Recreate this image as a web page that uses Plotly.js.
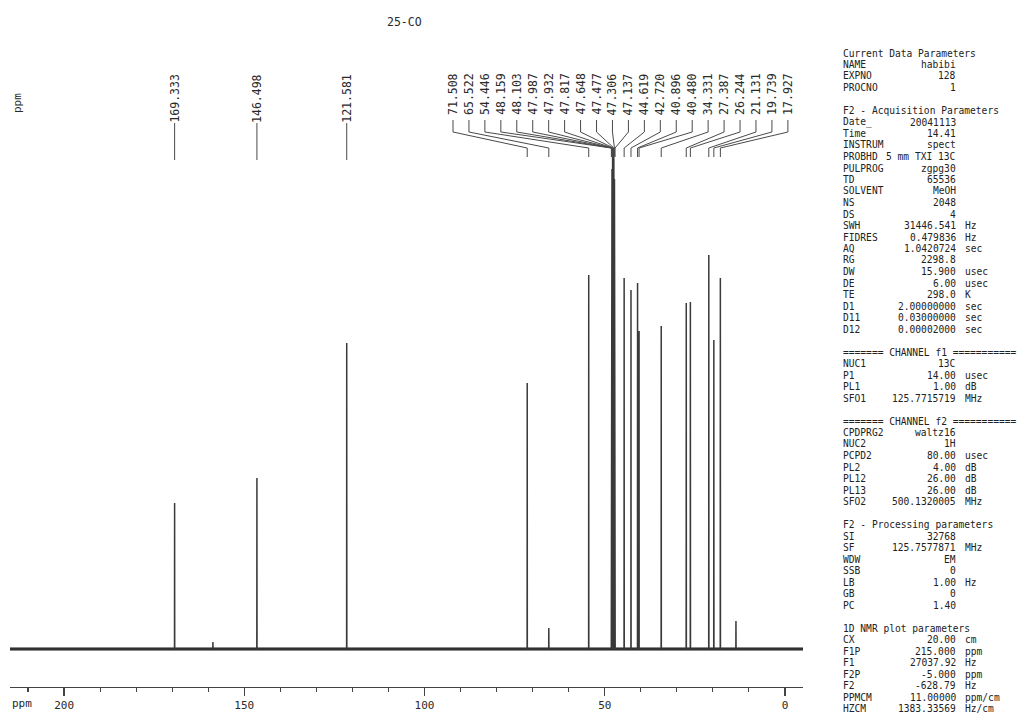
<!DOCTYPE html>
<html>
<head>
<meta charset="utf-8">
<script src="https://cdn.plot.ly/plotly-3.0.1.min.js"></script>
<style>html,body{margin:0;padding:0;background:#fff;}#chart{width:1024px;height:713px;}</style>
</head>
<body>
<div id="chart"></div>
<script>
// ---------- data ----------
const chartTitle = "25-CO";
const peakPpm = [169.333,146.498,121.581,71.508,65.522,54.446,48.159,48.103,47.987,47.932,47.817,47.648,47.477,47.306,47.137,44.619,42.720,40.896,40.480,34.331,27.387,26.244,21.131,19.739,17.927];
const peakHeight = [146,171,306,266,21,374,300,430,480,480,501,501,490,470,300,371,359,366,318,323,346,347,394,309,371];
const extraPpm = [158.7, 13.6];
const extraHeight = [7, 28];
const directLabelCount = 3;
const tickVals = [200,150,100,50,0];
const tickText = ["200","150","100","50","0"];

const paramNames = ["Current Data Parameters","NAME","EXPNO","PROCNO","",
 "F2 - Acquisition Parameters","Date_","Time","INSTRUM","PROBHD","PULPROG","TD","SOLVENT","NS","DS","SWH","FIDRES","AQ","RG","DW","DE","TE","D1","D11","D12","",
 "======= CHANNEL f1 ===========","NUC1","P1","PL1","SFO1","",
 "======= CHANNEL f2 ===========","CPDPRG2","NUC2","PCPD2","PL2","PL12","PL13","SFO2","",
 "F2 - Processing parameters","SI","SF","WDW","SSB","LB","GB","PC","",
 "1D NMR plot parameters","CX","F1P","F1","F2P","F2","PPMCM","HZCM"];
const paramValues = ["","habibi","128","1","",
 "","20041113","14.41","spect","5 mm TXI 13C","zgpg30","65536","MeOH","2048","4","31446.541","0.479836","1.0420724","2298.8","15.900","6.00","298.0","2.00000000","0.03000000","0.00002000","",
 "","13C","14.00","1.00","125.7715719","",
 "","waltz16","1H","80.00","4.00","26.00","26.00","500.1320005","",
 "","32768","125.7577871","EM","0","1.00","0","1.40","",
 "","20.00","215.000","27037.92","-5.000","-628.79","11.00000","1383.33569"];
const paramUnits = ["","","","","",
 "","","","","","","","","","","Hz","Hz","sec","","usec","usec","K","sec","sec","sec","",
 "","","usec","dB","MHz","",
 "","","","usec","dB","dB","dB","MHz","",
 "","","MHz","","","Hz","","","",
 "","cm","ppm","Hz","ppm","Hz","ppm/cm","Hz/cm"];

// ---------- layout constants ----------
const W = 1024, H = 713;
const M = {l:10, r:221, t:0, b:26};
const plotW = W - M.l - M.r, plotH = H - M.t - M.b;
const px2x = px => (px - M.l) / plotW;
const py2y = py => (H - M.b - py) / plotH;
const mono = "DejaVu Sans Mono, Liberation Mono, monospace";
const ink = "#2a2a2a";

// ---------- spectrum trace ----------
const allPeaks = peakPpm.map((p,i)=>({p, h: peakHeight[i]}))
  .concat(extraPpm.map((p,i)=>({p, h: extraHeight[i]})))
  .sort((a,b)=>b.p-a.p);
const d = 0.03;
const sx = [215], sy = [0];
allPeaks.forEach(k => { sx.push(k.p + d, k.p, k.p - d); sy.push(0, k.h, 0); });
sx.push(-5); sy.push(0);

const baseline = {x:[215,-5], y:[0,0], mode:'lines', line:{color:'#1a1a1a', width:3.2}, hoverinfo:'skip', showlegend:false};
const spectrum = {x:sx, y:sy, mode:'lines', line:{color:'#3a3a3a', width:1.5}, hoverinfo:'skip', showlegend:false};

// ---------- label connectors ----------
const fanStart = 92.1, fanStep = 4.424;
const yTextBottom = 529, yKnee1 = 517, yKnee2 = 501, yFoot = 492;
const cx = [], cy = [];
const annotations = [];
peakPpm.forEach((p, i) => {
  const lbl = p.toFixed(3);
  if (i < directLabelCount) {
    cx.push(p, p, null); cy.push(526, 489, null);
    annotations.push({x:p, y:551, xref:'x', yref:'y', text:lbl, textangle:-90, showarrow:false,
      xanchor:'center', yanchor:'middle', font:{family:mono, size:11.5, color:ink}});
  } else {
    const j = i - directLabelCount;
    const lx = fanStart - j * fanStep;
    cx.push(lx, lx, p, p, null); cy.push(yTextBottom, yKnee1, yKnee2, yFoot, null);
    annotations.push({x:lx, y:555, xref:'x', yref:'y', text:lbl, textangle:-90, showarrow:false,
      xanchor:'center', yanchor:'middle', font:{family:mono, size:11.5, color:ink}});
  }
});
const connectors = {x:cx, y:cy, mode:'lines', line:{color:'#4a4a4a', width:1}, hoverinfo:'skip', showlegend:false, connectgaps:false};

// ---------- other texts ----------
annotations.push({x:px2x(404), y:py2y(22), xref:'paper', yref:'paper', text:chartTitle, showarrow:false,
  xanchor:'center', yanchor:'middle', font:{family:mono, size:11.5, color:ink}});
annotations.push({x:px2x(17), y:py2y(103), xref:'paper', yref:'paper', text:'ppm', textangle:-90, showarrow:false,
  xanchor:'center', yanchor:'middle', font:{family:mono, size:11, color:ink}});
annotations.push({x:px2x(22), y:py2y(703), xref:'paper', yref:'paper', text:'ppm', showarrow:false,
  xanchor:'center', yanchor:'middle', font:{family:mono, size:11, color:ink}});

const pFont = {family:mono, size:9.6, color:'#222'};
paramNames.forEach((n, k) => {
  const py = 53 + k * 11.5;
  if (n) annotations.push({x:px2x(841), y:py2y(py), xref:'paper', yref:'paper', text:n, showarrow:false,
    xanchor:'left', yanchor:'middle', font:pFont});
  if (paramValues[k]) annotations.push({x:px2x(958), y:py2y(py), xref:'paper', yref:'paper', text:paramValues[k], showarrow:false,
    xanchor:'right', yanchor:'middle', font:pFont});
  if (paramUnits[k]) annotations.push({x:px2x(963), y:py2y(py), xref:'paper', yref:'paper', text:paramUnits[k], showarrow:false,
    xanchor:'left', yanchor:'middle', font:pFont});
});

const layout = {
  width: W, height: H, margin: M,
  paper_bgcolor:'#fff', plot_bgcolor:'rgba(0,0,0,0)',
  showlegend:false,
  xaxis:{range:[215,-5], autorange:false, showgrid:false, zeroline:false,
    showline:true, linecolor:'#444', linewidth:1.2,
    tickmode:'array', tickvals:tickVals, ticktext:tickText,
    ticks:'outside', ticklen:8, tickcolor:'#444', tickwidth:1.2,
    minor:{ticks:'outside', dtick:10, tick0:0, ticklen:4, tickcolor:'#444', tickwidth:1.1, showgrid:false},
    tickfont:{family:mono, size:11, color:ink}, fixedrange:true},
  yaxis:{range:[-38,649], autorange:false, visible:false, fixedrange:true},
  annotations: annotations
};

Plotly.newPlot('chart', [baseline, spectrum, connectors], layout, {staticPlot:true, displayModeBar:false});
</script>
</body>
</html>
